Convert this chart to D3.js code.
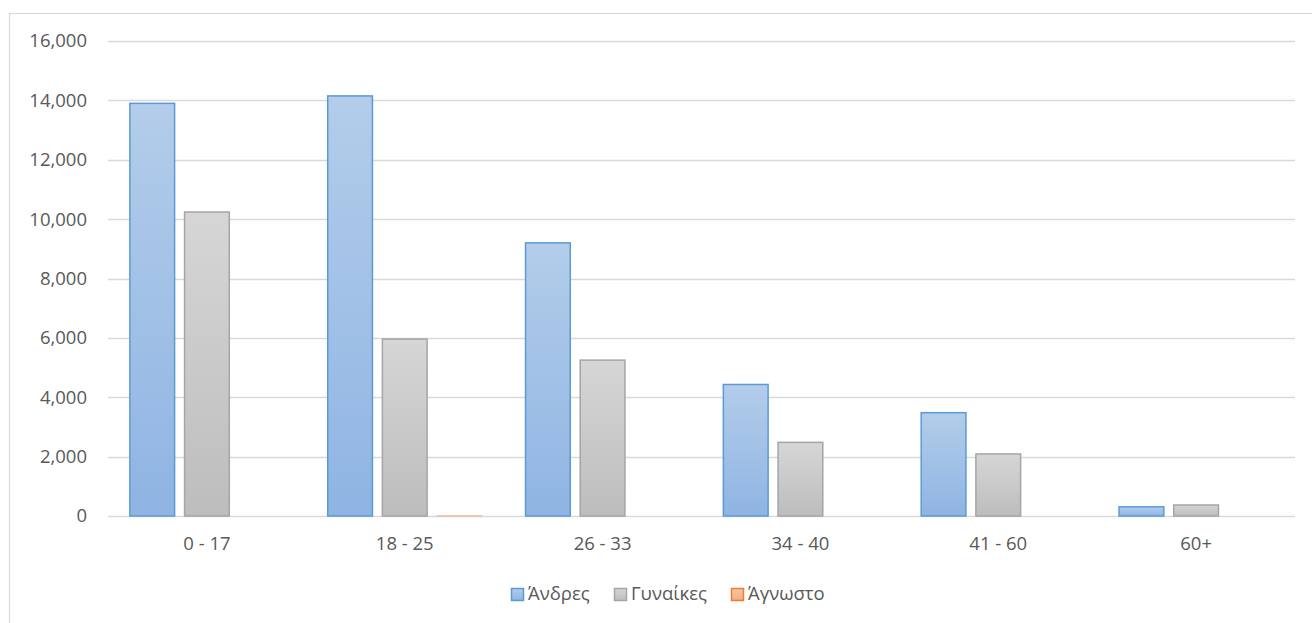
<!DOCTYPE html>
<html>
<head>
<meta charset="utf-8">
<script src="https://cdn.jsdelivr.net/npm/d3@7/dist/d3.min.js"></script>
<style>
  body { margin: 0; background: #fff; }
  text { font-family: "Open Sans", sans-serif; fill: #595959; }
</style>
</head>
<body>
<div id="chart-area"></div>
<script>
// data
var categories = ["0 - 17", "18 - 25", "26 - 33", "34 - 40", "41 - 60", "60+"];
var seriesNames = ["Άνδρες", "Γυναίκες", "Άγνωστο"];
var men = [13900, 14150, 9200, 4430, 3480, 310];
var women = [10240, 5960, 5250, 2480, 2090, 370];
var unknown = [0, 8, 0, 0, 0, 0];
var yTicks = [0, 2000, 4000, 6000, 8000, 10000, 12000, 14000, 16000];

var W = 1312, H = 623;
var margin = { left:108, right:17, top:41, bottom:107 };
var width = W - margin.left - margin.right,
    height = H - margin.top - margin.bottom;

var svg = d3.select("#chart-area")
    .append("svg")
        .attr("width", W)
        .attr("height", H);

// gradients
var defs = svg.append("defs");
var grads = [
    { id: "g0", top: "#b3cdea", bottom: "#8fb4e3", stroke: "#5b9bd5" },
    { id: "g1", top: "#d6d6d6", bottom: "#bdbdbd", stroke: "#a5a5a5" },
    { id: "g2", top: "#f8c9a8", bottom: "#f4ad7f", stroke: "#ed7d31" }
];
grads.forEach(function(d) {
    var lg = defs.append("linearGradient")
        .attr("id", d.id)
        .attr("x1", 0).attr("y1", 0).attr("x2", 0).attr("y2", 1);
    lg.append("stop").attr("offset", "0%").attr("stop-color", d.top);
    lg.append("stop").attr("offset", "100%").attr("stop-color", d.bottom);
});

// outer chart border
svg.append("rect")
    .attr("x", 9.5).attr("y", 13.5)
    .attr("width", 1320).attr("height", 640)
    .attr("fill", "none")
    .attr("stroke", "#d9d9d9")
    .attr("stroke-width", 1.2);

var g = svg.append("g")
    .attr("transform", "translate(" + margin.left + ", " + margin.top + ")");

// scales
var x = d3.scaleBand()
    .domain(categories)
    .range([0, width])
    .paddingInner(0)
    .paddingOuter(0);

var x1 = d3.scaleBand()
    .domain(seriesNames)
    .range([0, x.bandwidth()])
    .paddingInner(10 / 55)
    .paddingOuter(0.4);

var y = d3.scaleLinear()
    .domain([0, 16000])
    .range([height, 0]);

// gridlines
g.selectAll("line.grid")
    .data(yTicks)
    .enter()
    .append("line")
        .attr("class", "grid")
        .attr("x1", 0)
        .attr("x2", width)
        .attr("y1", function(d){ return Math.round(y(d)) + 0.5; })
        .attr("y2", function(d){ return Math.round(y(d)) + 0.5; })
        .attr("stroke", "#d9d9d9")
        .attr("stroke-width", 1.5);

// Y Axis
var yAxisCall = d3.axisLeft(y)
    .tickValues(yTicks)
    .tickSize(0)
    .tickPadding(21)
    .tickFormat(d3.format(","));
var yAxis = g.append("g")
    .attr("class", "y axis")
    .call(yAxisCall);
yAxis.select(".domain").remove();
yAxis.selectAll("text").attr("font-size", "18.5px").attr("fill", "#595959");

// X Axis
var xAxisCall = d3.axisBottom(x).tickSize(0).tickPadding(21);
var xAxis = g.append("g")
    .attr("class", "x axis")
    .attr("transform", "translate(0," + height + ")")
    .call(xAxisCall);
xAxis.select(".domain").remove();
xAxis.selectAll("text").attr("font-size", "18.5px").attr("fill", "#595959");

// Bars
var allSeries = [men, women, unknown];
var rows = [];
categories.forEach(function(c, i) {
    seriesNames.forEach(function(s, j) {
        rows.push({ cat: c, series: s, idx: j, value: allSeries[j][i] });
    });
});

g.selectAll("rect.bar")
    .data(rows.filter(function(d){ return d.value > 0; }))
    .enter()
    .append("rect")
        .attr("class", "bar")
        .attr("x", function(d){ return x(d.cat) + x1(d.series); })
        .attr("y", function(d){ return y(d.value); })
        .attr("width", x1.bandwidth())
        .attr("height", function(d){ return height - y(d.value); })
        .attr("fill", function(d){ return "url(#" + grads[d.idx].id + ")"; })
        .attr("stroke", function(d){ return d.idx == 2 ? "#f4b183" : grads[d.idx].stroke; })
        .attr("stroke-width", function(d){ return d.idx == 2 ? 0.8 : 1.5; });

// Legend
var legend = svg.append("g")
    .attr("transform", "translate(0, 594)");
var legendX = [511, 614, 731];
seriesNames.forEach(function(s, j) {
    var item = legend.append("g")
        .attr("transform", "translate(" + legendX[j] + ", 0)");
    item.append("rect")
        .attr("x", 0.5).attr("y", -5.5)
        .attr("width", 12).attr("height", 12)
        .attr("fill", "url(#" + grads[j].id + ")")
        .attr("stroke", grads[j].stroke)
        .attr("stroke-width", 1.5);
    item.append("text")
        .attr("x", 17)
        .attr("y", 0)
        .attr("dy", "0.35em")
        .attr("font-size", "18.5px")
        .text(s);
});
</script>
</body>
</html>
